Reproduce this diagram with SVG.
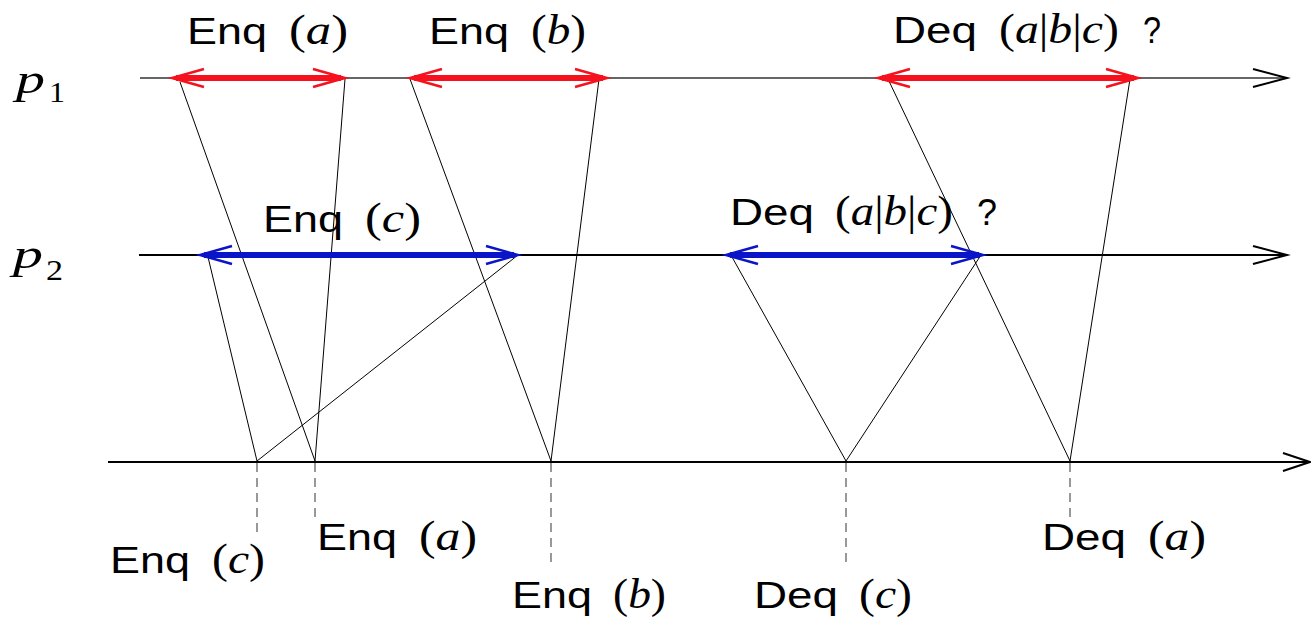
<svg xmlns="http://www.w3.org/2000/svg" width="1311" height="619" viewBox="0 0 1311 619">
<defs>
<style>
.lbl{font-family:"Liberation Sans",Arial,sans-serif;font-size:37px;fill:#000}
.mt{font-family:"Liberation Serif","Times New Roman",serif;font-size:42px;fill:#000}
.m{font-style:italic}
.pl{font-family:"Liberation Serif","Times New Roman",serif;font-style:italic;font-size:42px;fill:#000}
.sub{font-family:"Liberation Serif","Times New Roman",serif;font-size:30px;fill:#000}
.msg{stroke:#000;stroke-width:1;fill:none}
.dash{stroke:#555;stroke-width:1.2;stroke-dasharray:9 6;fill:none}
.red{stroke:#f5121e;stroke-width:6;fill:none}
.blue{stroke:#0a14c8;stroke-width:6;fill:none}
.rhead{stroke:#f5121e;stroke-width:2.5;fill:none}
.bhead{stroke:#0a14c8;stroke-width:2.5;fill:none}
.axhead{stroke:#000;stroke-width:2;fill:none}
</style>
</defs>
<g id="axes">
<line x1="140" y1="78" x2="1286" y2="78" stroke="#333" stroke-width="1.3"/>
<path class="axhead" d="M1253 69 L1287 78 L1253 87"/>
<line x1="139" y1="255" x2="1286" y2="255" stroke="#000" stroke-width="2"/>
<path class="axhead" d="M1253 246 L1287 255 L1253 264"/>
<line x1="108" y1="462" x2="1309" y2="462" stroke="#000" stroke-width="2"/>
<path class="axhead" d="M1283 453 L1310 462 L1283 471"/>
</g>
<g id="labels-p">
<text class="pl" x="16" y="93" textLength="29" lengthAdjust="spacingAndGlyphs">p</text>
<text class="sub" x="49" y="102" textLength="16" lengthAdjust="spacingAndGlyphs">1</text>
<text class="pl" x="13" y="268" textLength="30" lengthAdjust="spacingAndGlyphs">p</text>
<text class="sub" x="46" y="280" textLength="17" lengthAdjust="spacingAndGlyphs">2</text>
</g>
<g id="connectors">
<line class="msg" x1="180" y1="82" x2="315" y2="461"/>
<line class="msg" x1="345" y1="79" x2="315" y2="461"/>
<line class="msg" x1="410" y1="79" x2="551" y2="461"/>
<line class="msg" x1="599" y1="79" x2="551" y2="461"/>
<line class="msg" x1="888" y1="79" x2="1070" y2="461"/>
<line class="msg" x1="1130" y1="79" x2="1070" y2="461"/>
<line class="msg" x1="208" y1="257" x2="257" y2="461"/>
<line class="msg" x1="518" y1="255" x2="257" y2="461"/>
<line class="msg" x1="732" y1="257" x2="846" y2="461"/>
<line class="msg" x1="981" y1="255" x2="846" y2="461"/>
<line class="dash" x1="257" y1="463" x2="257" y2="538"/>
<line class="dash" x1="315" y1="463" x2="315" y2="520"/>
<line class="dash" x1="551" y1="463" x2="551" y2="568"/>
<line class="dash" x1="846" y1="463" x2="846" y2="562"/>
<line class="dash" x1="1070" y1="463" x2="1070" y2="517"/>
</g>
<g id="op-enq-a-p1">
<line class="red" x1="176" y1="78" x2="341" y2="78"/>
<path class="rhead" d="M204 69 L172 78 L204 87 M313 69 L345 78 L313 87"/>
<text class="lbl" x="187" y="44" textLength="80" lengthAdjust="spacingAndGlyphs">Enq</text>
<text class="mt" x="289" y="44" textLength="59" lengthAdjust="spacingAndGlyphs">(<tspan class="m">a</tspan>)</text>
</g>
<g id="op-enq-b-p1">
<line class="red" x1="414" y1="78" x2="603" y2="78"/>
<path class="rhead" d="M442 69 L410 78 L442 87 M575 69 L607 78 L575 87"/>
<text class="lbl" x="429" y="44" textLength="80" lengthAdjust="spacingAndGlyphs">Enq</text>
<text class="mt" x="531" y="44" textLength="55" lengthAdjust="spacingAndGlyphs">(<tspan class="m">b</tspan>)</text>
</g>
<g id="op-deq-p1">
<line class="red" x1="882" y1="78" x2="1134" y2="78"/>
<path class="rhead" d="M910 69 L878 78 L910 87 M1106 69 L1138 78 L1106 87"/>
<text class="lbl" x="893" y="43" textLength="84" lengthAdjust="spacingAndGlyphs">Deq</text>
<text class="mt" x="999" y="43" textLength="120" lengthAdjust="spacingAndGlyphs">(<tspan class="m">a</tspan>|<tspan class="m">b</tspan>|<tspan class="m">c</tspan>)</text>
<text class="lbl" x="1143" y="43" textLength="18" lengthAdjust="spacingAndGlyphs">?</text>
</g>
<g id="op-enq-c-p2">
<line class="blue" x1="204" y1="255" x2="514" y2="255"/>
<path class="bhead" d="M232 246 L200 255 L232 264 M486 246 L518 255 L486 264"/>
<text class="lbl" x="263" y="232" textLength="80" lengthAdjust="spacingAndGlyphs">Enq</text>
<text class="mt" x="365" y="232" textLength="56" lengthAdjust="spacingAndGlyphs">(<tspan class="m">c</tspan>)</text>
</g>
<g id="op-deq-p2">
<line class="blue" x1="730" y1="255" x2="979" y2="255"/>
<path class="bhead" d="M758 246 L726 255 L758 264 M951 246 L983 255 L951 264"/>
<text class="lbl" x="730" y="225" textLength="84" lengthAdjust="spacingAndGlyphs">Deq</text>
<text class="mt" x="835" y="225" textLength="118" lengthAdjust="spacingAndGlyphs">(<tspan class="m">a</tspan>|<tspan class="m">b</tspan>|<tspan class="m">c</tspan>)</text>
<text class="lbl" x="977" y="225" textLength="20" lengthAdjust="spacingAndGlyphs">?</text>
</g>
<g id="lin-enq-c">
<text class="lbl" x="110" y="573" textLength="80" lengthAdjust="spacingAndGlyphs">Enq</text>
<text class="mt" x="212" y="573" textLength="53" lengthAdjust="spacingAndGlyphs">(<tspan class="m">c</tspan>)</text>
</g>
<g id="lin-enq-a">
<text class="lbl" x="317" y="550" textLength="80" lengthAdjust="spacingAndGlyphs">Enq</text>
<text class="mt" x="419" y="550" textLength="58" lengthAdjust="spacingAndGlyphs">(<tspan class="m">a</tspan>)</text>
</g>
<g id="lin-enq-b">
<text class="lbl" x="512" y="608" textLength="80" lengthAdjust="spacingAndGlyphs">Enq</text>
<text class="mt" x="613" y="608" textLength="53" lengthAdjust="spacingAndGlyphs">(<tspan class="m">b</tspan>)</text>
</g>
<g id="lin-deq-c">
<text class="lbl" x="754" y="608" textLength="84" lengthAdjust="spacingAndGlyphs">Deq</text>
<text class="mt" x="859" y="608" textLength="53" lengthAdjust="spacingAndGlyphs">(<tspan class="m">c</tspan>)</text>
</g>
<g id="lin-deq-a">
<text class="lbl" x="1042" y="550" textLength="84" lengthAdjust="spacingAndGlyphs">Deq</text>
<text class="mt" x="1148" y="550" textLength="58" lengthAdjust="spacingAndGlyphs">(<tspan class="m">a</tspan>)</text>
</g>
</svg>
